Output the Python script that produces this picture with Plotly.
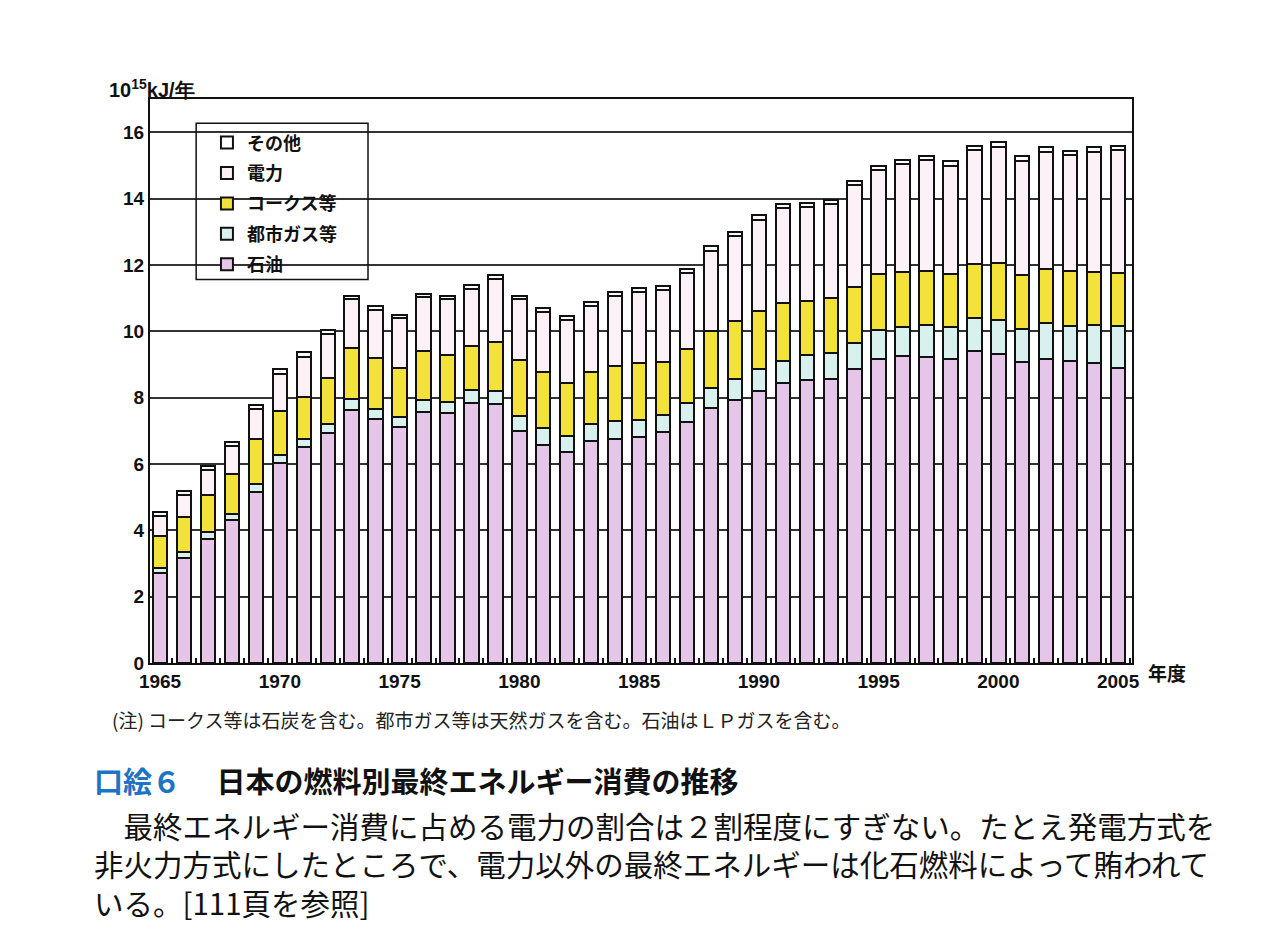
import plotly.graph_objects as go

# 年度
years = list(range(1965, 2006))

# 10^15 kJ/年 (bottom to top)
oil = [2.70, 3.16, 3.75, 4.30, 5.16, 6.04, 6.50, 6.92, 7.63, 7.34,
       7.10, 7.56, 7.53, 7.84, 7.80, 6.99, 6.58, 6.36, 6.70, 6.74,
       6.80, 6.96, 7.25, 7.69, 7.93, 8.20, 8.45, 8.54, 8.56, 8.87,
       9.16, 9.24, 9.21, 9.17, 9.39, 9.30, 9.08, 9.17, 9.10, 9.04,
       8.90]
city_gas = [0.17, 0.18, 0.20, 0.18, 0.25, 0.22, 0.24, 0.27, 0.33, 0.33,
            0.32, 0.38, 0.35, 0.40, 0.41, 0.45, 0.50, 0.47, 0.50, 0.55,
            0.53, 0.52, 0.60, 0.60, 0.62, 0.67, 0.65, 0.75, 0.77, 0.79,
            0.87, 0.90, 0.97, 0.95, 1.00, 1.05, 1.00, 1.08, 1.06, 1.15,
            1.26]
coke = [0.95, 1.06, 1.12, 1.22, 1.34, 1.34, 1.29, 1.39, 1.53, 1.51,
        1.47, 1.46, 1.39, 1.31, 1.47, 1.68, 1.69, 1.61, 1.56, 1.66,
        1.70, 1.59, 1.61, 1.71, 1.76, 1.73, 1.76, 1.61, 1.68, 1.68,
        1.69, 1.64, 1.64, 1.61, 1.63, 1.70, 1.63, 1.63, 1.65, 1.59,
        1.60]
electricity = [0.60, 0.65, 0.76, 0.84, 0.90, 1.12, 1.20, 1.34, 1.48, 1.47,
               1.50, 1.63, 1.69, 1.73, 1.89, 1.84, 1.82, 1.89, 1.99, 2.10,
               2.14, 2.16, 2.29, 2.43, 2.56, 2.76, 2.84, 2.85, 2.83, 3.07,
               3.13, 3.26, 3.33, 3.26, 3.43, 3.51, 3.43, 3.53, 3.49, 3.63,
               3.69]
other = [0.12, 0.12, 0.12, 0.13, 0.13, 0.14, 0.13, 0.11, 0.10, 0.10,
         0.10, 0.10, 0.11, 0.12, 0.12, 0.11, 0.12, 0.12, 0.12, 0.14,
         0.12, 0.12, 0.12, 0.14, 0.13, 0.13, 0.13, 0.13, 0.13, 0.13,
         0.13, 0.13, 0.12, 0.13, 0.13, 0.13, 0.13, 0.13, 0.13, 0.13,
         0.13]

x_ticks = [1965, 1970, 1975, 1980, 1985, 1990, 1995, 2000, 2005]
y_ticks = [0, 2, 4, 6, 8, 10, 12, 14, 16]

# name, values, colour, rank in legend (top first)
series = [
    ("石油", oil, "#e6c6e8", 5),
    ("都市ガス等", city_gas, "#d8f1ee", 4),
    ("コークス等", coke, "#f2e23a", 3),
    ("電力", electricity, "#fbf1f7", 2),
    ("その他", other, "#ffffff", 1),
]

jp = "Noto Sans CJK JP"

fig = go.Figure()
for name, vals, col, rank in series:
    fig.add_trace(go.Bar(
        x=years, y=vals, name=name, legendgroup=name, legendrank=rank,
        marker=dict(color=col, line=dict(color="#111111", width=2)),
        width=0.6,
    ))

fig.update_layout(
    barmode="stack",
    width=1264, height=923,
    margin=dict(l=142, r=140, t=91, b=268),
    paper_bgcolor="white", plot_bgcolor="white",
    font=dict(family=jp, color="#111111"),
    showlegend=True,
    legend=dict(
        x=0.058, y=0.955, xanchor="left", yanchor="top",
        traceorder="grouped", tracegroupgap=4,
        bgcolor="rgba(0,0,0,0)", borderwidth=0,
        font=dict(family=jp, size=18, weight="bold", color="#111111"),
        itemwidth=30,
    ),
    xaxis=dict(
        range=[1964.58, 2005.58],
        tickvals=x_ticks, ticks="",
        tickfont=dict(family="Liberation Sans", size=19, weight="bold"),
        showline=True, linecolor="#111111", linewidth=2, mirror=True,
        showgrid=False, zeroline=False,
        minor=dict(tick0=1964.5, dtick=1, ticks="inside", ticklen=5,
                   tickcolor="#111111", tickwidth=2, showgrid=False),
    ),
    yaxis=dict(
        range=[0, 17.0],
        tickvals=y_ticks, ticks="",
        tickfont=dict(family="Liberation Sans", size=19, weight="bold"),
        showline=True, linecolor="#111111", linewidth=2, mirror=True,
        showgrid=True, gridcolor="#333333", gridwidth=1.5,
        zeroline=False,
    ),
)

# legend frame (white fill hides the grid lines)
fig.add_shape(type="rect", xref="paper", yref="paper", layer="between",
              x0=0.047, x1=0.222, y0=0.680, y1=0.957,
              line=dict(width=0), fillcolor="white")
fig.add_shape(type="rect", xref="paper", yref="paper", layer="above",
              x0=0.047, x1=0.222, y0=0.680, y1=0.957,
              line=dict(color="#111111", width=1.5), fillcolor="rgba(0,0,0,0)")

# unit labels
fig.add_annotation(xref="paper", yref="paper", x=-0.044, y=1.019,
                   xanchor="left", yanchor="middle", showarrow=False,
                   text="10<sup>15</sup>kJ/年",
                   font=dict(family="Liberation Sans", size=20, weight="bold"))
fig.add_annotation(xref="paper", yref="paper", x=1.014, y=-0.016,
                   xanchor="left", yanchor="middle", showarrow=False,
                   text="年度", font=dict(family=jp, size=19, weight="bold"))

# note, caption and body text below the chart
fig.add_annotation(xref="paper", yref="paper", x=-0.041, y=-0.101,
                   xanchor="left", yanchor="middle", showarrow=False,
                   text="(注) コークス等は石炭を含む。都市ガス等は天然ガスを含む。石油はＬＰガスを含む。",
                   font=dict(family=jp, size=19, color="#222222"))
fig.add_annotation(xref="paper", yref="paper", x=-0.059, y=-0.207,
                   xanchor="left", yanchor="middle", showarrow=False,
                   text="<span style='color:#1f73c4'>口絵６</span>　 日本の燃料別最終エネルギー消費の推移",
                   font=dict(family=jp, size=29, weight="bold", color="#111111"))
body = [
    "　最終エネルギー消費に占める電力の割合は２割程度にすぎない。たとえ発電方式を",
    "非火力方式にしたところで、電力以外の最終エネルギーは化石燃料によって賄われて",
    "いる。[111頁を参照]",
]
fig.add_annotation(xref="paper", yref="paper", x=-0.059, y=-0.355,
                   xanchor="left", yanchor="middle", align="left",
                   showarrow=False, text="<br>".join(body),
                   font=dict(family=jp, size=29.5, color="#111111"))

fig.write_html("out.html")
